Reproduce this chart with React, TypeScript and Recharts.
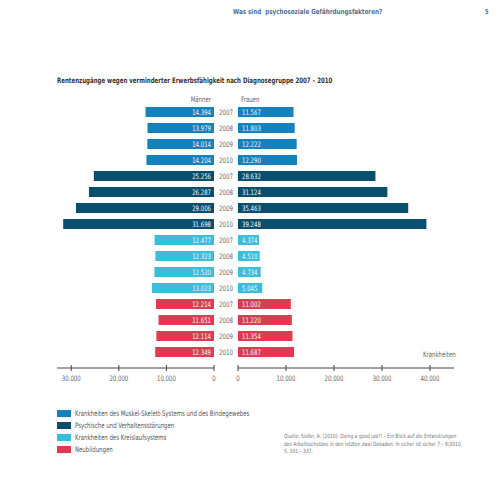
import React from 'react';
import { BarChart, Bar, XAxis, YAxis, Cell, LabelList } from 'recharts';

const years = ['2007', '2008', '2009', '2010'];
const groups = [
  'Krankheiten des Muskel-Skelett-Systems und des Bindegewebes',
  'Psychische und Verhaltensstörungen',
  'Krankheiten des Kreislaufsystems',
  'Neubildungen',
];
const groupColors = ['#1482bd', '#0a4e6e', '#3bbddc', '#e23a51'];
const menValues = [
  14394, 13979, 14014, 14204,
  25256, 26287, 29006, 31698,
  12477, 12323, 12520, 13023,
  12214, 11651, 12114, 12349,
];
const womenValues = [
  11567, 11803, 12222, 12290,
  28632, 31124, 35463, 39248,
  4374, 4510, 4734, 5045,
  11002, 11220, 11354, 11687,
];
const menTicks = [0, 10000, 20000, 30000];
const womenTicks = [0, 10000, 20000, 30000, 40000];
const sourceLines = [
  'Quelle: Siefer, A. (2010): Doing a good job?! – Ein Blick auf die Entwicklungen',
  'des Arbeitsschutzes in den letzten zwei Dekaden. In sicher ist sicher 7 – 8/2010,',
  'S. 331 – 337.',
];

const data = menValues.map((m, i) => ({
  id: `${Math.floor(i / 4)}-${years[i % 4]}`,
  group: Math.floor(i / 4),
  men: m,
  women: womenValues[i],
}));

const FONT = "'DejaVu Sans Condensed', 'DejaVu Sans', sans-serif";
const SQUEEZE = 0.8;
const fmt = (v: number) => String(v).replace(/\B(?=(\d{3})+(?!\d))/g, '.');

// condensed svg text: squeezed horizontally around its anchor point
const Narrow = ({ x, y, anchor, fill, children }: any) => (
  <g transform={`translate(${x},${y}) scale(${SQUEEZE},1)`}>
    <text x={0} y={0} textAnchor={anchor} fontSize={7.5} fill={fill} fontFamily={FONT}>
      {children}
    </text>
  </g>
);

const AxisTick = ({ x, y, payload }: any) => (
  <g>
    <line x1={x} x2={x} y1={y - 3} y2={y + 3} stroke="#444" strokeWidth={1} />
    <Narrow x={x} y={y + 13} anchor="middle" fill="#666">{fmt(payload.value)}</Narrow>
  </g>
);

const YearTick = ({ x, y, payload }: any) => (
  <Narrow x={x} y={y + 3} anchor="middle" fill="#666">{payload.value.split('-')[1]}</Narrow>
);

const LeftLabel = ({ x, y, width, height, value }: any) => (
  <Narrow x={Math.max(x, x + width) - 3} y={y + height / 2 + 2.7} anchor="end" fill="#eef6fb">{fmt(value)}</Narrow>
);

const RightLabel = ({ x, y, width, height, value }: any) => (
  <Narrow x={Math.min(x, x + width) + 4} y={y + height / 2 + 2.7} anchor="start" fill="#eef6fb">{fmt(value)}</Narrow>
);

const abs = (left: number, top: number, k = SQUEEZE, origin = 'left center'): React.CSSProperties => ({
  position: 'absolute',
  left,
  top,
  whiteSpace: 'nowrap',
  fontFamily: FONT,
  transform: `scaleX(${k})`,
  transformOrigin: origin,
});

export default function App() {
  return (
    <div style={{ position: 'absolute', left: 0, top: 0, width: 500, height: 500, background: '#fff', fontFamily: FONT }}>
      <div style={{ ...abs(233, 8, 0.89), fontSize: 7, fontWeight: 'bold', color: '#50708e' }}>
        Was sind&nbsp; psychosoziale Gefährdungsfaktoren?
      </div>
      <div style={{ ...abs(485, 8), fontSize: 7, fontWeight: 'bold', color: '#50708e' }}>5</div>
      <div style={{ ...abs(57, 76, 0.81), fontSize: 7.5, fontWeight: 'bold', color: '#333' }}>
        Rentenzugänge wegen verminderter Erwerbsfähigkeit nach Diagnosegruppe 2007 – 2010
      </div>
      <div style={{ ...abs(161, 95, SQUEEZE, 'right center'), width: 50, textAlign: 'right', fontSize: 7.5, color: '#666' }}>Männer</div>
      <div style={{ ...abs(241, 95), fontSize: 7.5, color: '#666' }}>Frauen</div>
      <div style={{ ...abs(423, 350), fontSize: 7.5, color: '#666' }}>Krankheiten</div>

      <div style={{ position: 'absolute', left: 0, top: 0 }}>
        <BarChart width={230} height={400} data={data} layout="vertical" margin={{ top: 104, right: 16, bottom: 2, left: 57 }}>
          <XAxis
            type="number"
            domain={[0, 33000]}
            reversed
            ticks={menTicks}
            tick={<AxisTick />}
            tickLine={false}
            tickSize={0}
            tickMargin={0}
            axisLine={{ stroke: '#444' }}
            height={30}
            allowDataOverflow
          />
          <YAxis type="category" dataKey="id" hide padding={{ top: 0, bottom: 8 }} />
          <Bar dataKey="men" barSize={10} isAnimationActive={false}>
            {data.map((d) => (
              <Cell key={d.id} fill={groupColors[d.group]} />
            ))}
            <LabelList dataKey="men" content={<LeftLabel />} />
          </Bar>
        </BarChart>
      </div>

      <div style={{ position: 'absolute', left: 0, top: 0 }}>
        <BarChart width={500} height={400} data={data} layout="vertical" margin={{ top: 104, right: 46, bottom: 2, left: 214 }}>
          <XAxis
            type="number"
            domain={[0, 45000]}
            ticks={womenTicks}
            tick={<AxisTick />}
            tickLine={false}
            tickSize={0}
            tickMargin={0}
            axisLine={{ stroke: '#444' }}
            height={30}
            allowDataOverflow
          />
          <YAxis
            type="category"
            dataKey="id"
            width={24}
            axisLine={false}
            tickLine={false}
            tickSize={0}
            tickMargin={12}
            tick={<YearTick />}
            interval={0}
            padding={{ top: 0, bottom: 8 }}
          />
          <Bar dataKey="women" barSize={10} isAnimationActive={false}>
            {data.map((d) => (
              <Cell key={d.id} fill={groupColors[d.group]} />
            ))}
            <LabelList dataKey="women" content={<RightLabel />} />
          </Bar>
        </BarChart>
      </div>

      {groups.map((g, i) => (
        <div key={g} style={{ position: 'absolute', left: 57, top: 409 + i * 12, display: 'flex', alignItems: 'center' }}>
          <span style={{ display: 'inline-block', width: 14, height: 7, background: groupColors[i], marginRight: 4 }} />
          <span style={{ display: 'inline-block', whiteSpace: 'nowrap', fontFamily: FONT, fontSize: 7.5, color: '#555', transform: `scaleX(${SQUEEZE})`, transformOrigin: 'left center' }}>
            {g}
          </span>
        </div>
      ))}

      {sourceLines.map((line, i) => (
        <div key={i} style={{ ...abs(284, 433 + i * 7.5, 0.85), fontSize: 5.8, lineHeight: '7px', color: '#777' }}>
          {line}
        </div>
      ))}
    </div>
  );
}
